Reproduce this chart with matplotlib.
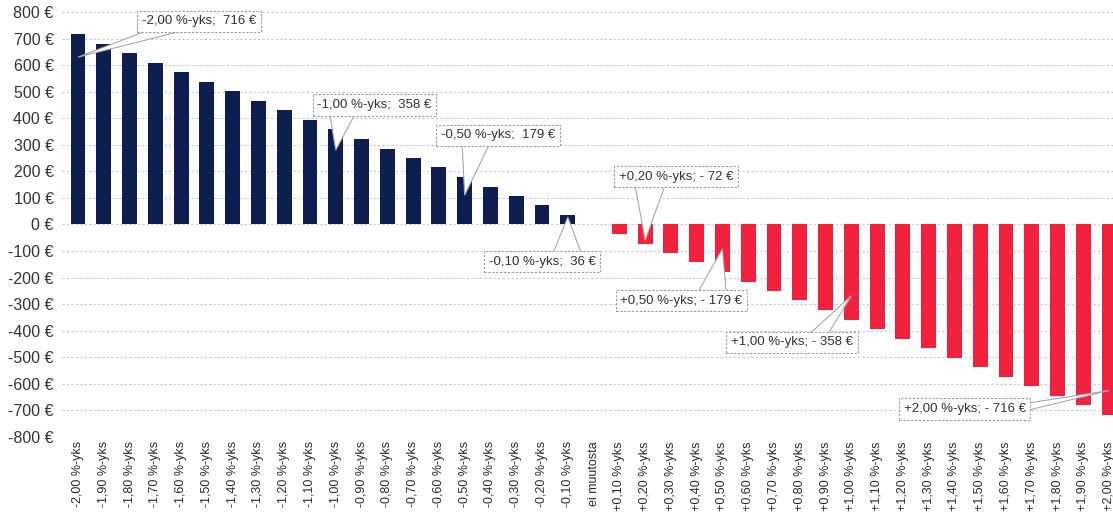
import matplotlib.pyplot as plt
from matplotlib.patches import Polygon

plt.rcParams['font.family'] = ['Liberation Sans', 'DejaVu Sans']

# categories: change in interest rate (percentage points)
labels = ['-2,00 %-yks', '-1,90 %-yks', '-1,80 %-yks', '-1,70 %-yks', '-1,60 %-yks',
          '-1,50 %-yks', '-1,40 %-yks', '-1,30 %-yks', '-1,20 %-yks', '-1,10 %-yks',
          '-1,00 %-yks', '-0,90 %-yks', '-0,80 %-yks', '-0,70 %-yks', '-0,60 %-yks',
          '-0,50 %-yks', '-0,40 %-yks', '-0,30 %-yks', '-0,20 %-yks', '-0,10 %-yks',
          'ei muutosta',
          '+0,10 %-yks', '+0,20 %-yks', '+0,30 %-yks', '+0,40 %-yks', '+0,50 %-yks',
          '+0,60 %-yks', '+0,70 %-yks', '+0,80 %-yks', '+0,90 %-yks', '+1,00 %-yks',
          '+1,10 %-yks', '+1,20 %-yks', '+1,30 %-yks', '+1,40 %-yks', '+1,50 %-yks',
          '+1,60 %-yks', '+1,70 %-yks', '+1,80 %-yks', '+1,90 %-yks', '+2,00 %-yks']

# euro effect per year
values = [716, 680, 644, 609, 573, 537, 501, 465, 430, 394,
          358, 322, 286, 251, 215, 179, 143, 107, 72, 36,
          0,
          -36, -72, -107, -143, -179, -215, -251, -286, -322, -358,
          -394, -430, -465, -501, -537, -573, -609, -644, -680, -716]

# callouts: (category index, text, value where pointer ends)
callouts = [
    (0, '-2,00 %-yks;  716 €', 630),
    (10, '-1,00 %-yks;  358 €', 280),
    (15, '-0,50 %-yks;  179 €', 110),
    (19, '-0,10 %-yks;  36 €', 28),
    (22, '+0,20 %-yks; - 72 €', -60),
    (25, '+0,50 %-yks; - 179 €', -92),
    (30, '+1,00 %-yks; - 358 €', -268),
    (40, '+2,00 %-yks; - 716 €', -625),
]

# layout of the callouts: box centre and pointer base offsets (x units, y units)
box_pos = [(4.7, 765), (11.5, 450), (16.3, 335), (18.0, -140),
           (23.2, 180), (23.4, -287), (27.7, -444), (34.4, -695)]
base_off = [((-1.75, -25), (-0.2, -25)), ((-1.75, -25), (-0.7, -25)),
            ((-1.4, -25), (-0.3, -25)), ((0.4, 25), (1.55, 25)),
            ((-1.6, -25), (-0.4, -25)), ((0.6, 25), (1.75, 25)),
            ((0.6, 25), (1.35, 25)), ((1.6, 10), (2.2, -10))]

navy = '#0e1f4f'
red = '#f2223e'

fig = plt.figure(figsize=(11.13, 5.14), dpi=100)
ax = fig.add_axes([0.0557, 0.1498, 0.9443, 0.8269])

x = list(range(len(labels)))
colors = [navy if v > 0 else red for v in values]
ax.bar(x, values, width=0.58, color=colors, zorder=2)

ax.set_ylim(-800, 800)
ax.set_xlim(-0.62, 40.15)
ax.set_yticks(range(-800, 801, 100))
ax.set_yticklabels([f'{t} €' for t in range(-800, 801, 100)], fontsize=11.5, color='#333333')
ax.set_xticks(x)
ax.set_xticklabels(labels, rotation=90, fontsize=9, color='#2a2a2a')
ax.tick_params(axis='x', length=0, pad=3)
ax.tick_params(axis='y', length=0, pad=6)
ax.grid(axis='y', color='#c8c8c8', ls=(0, (2, 2)), lw=0.8, zorder=0)
for s in ax.spines.values():
    s.set_visible(False)

for (i, txt, tip), (bx, by), (b1, b2) in zip(callouts, box_pos, base_off):
    tri = Polygon([(bx + b1[0], by + b1[1]), (bx + b2[0], by + b2[1]), (i, tip)],
                  closed=True, fc='white', ec='#a8a8a8', lw=0.8, zorder=5, clip_on=False)
    ax.add_patch(tri)
    ax.text(bx, by, txt, ha='center', va='center', fontsize=9.5, color='#333333', zorder=6,
            bbox=dict(boxstyle='square,pad=0.35', fc='white', ec='#9a9a9a',
                      ls=(0, (2, 1.5)), lw=0.8))

fig.savefig('out.png', dpi=100)
